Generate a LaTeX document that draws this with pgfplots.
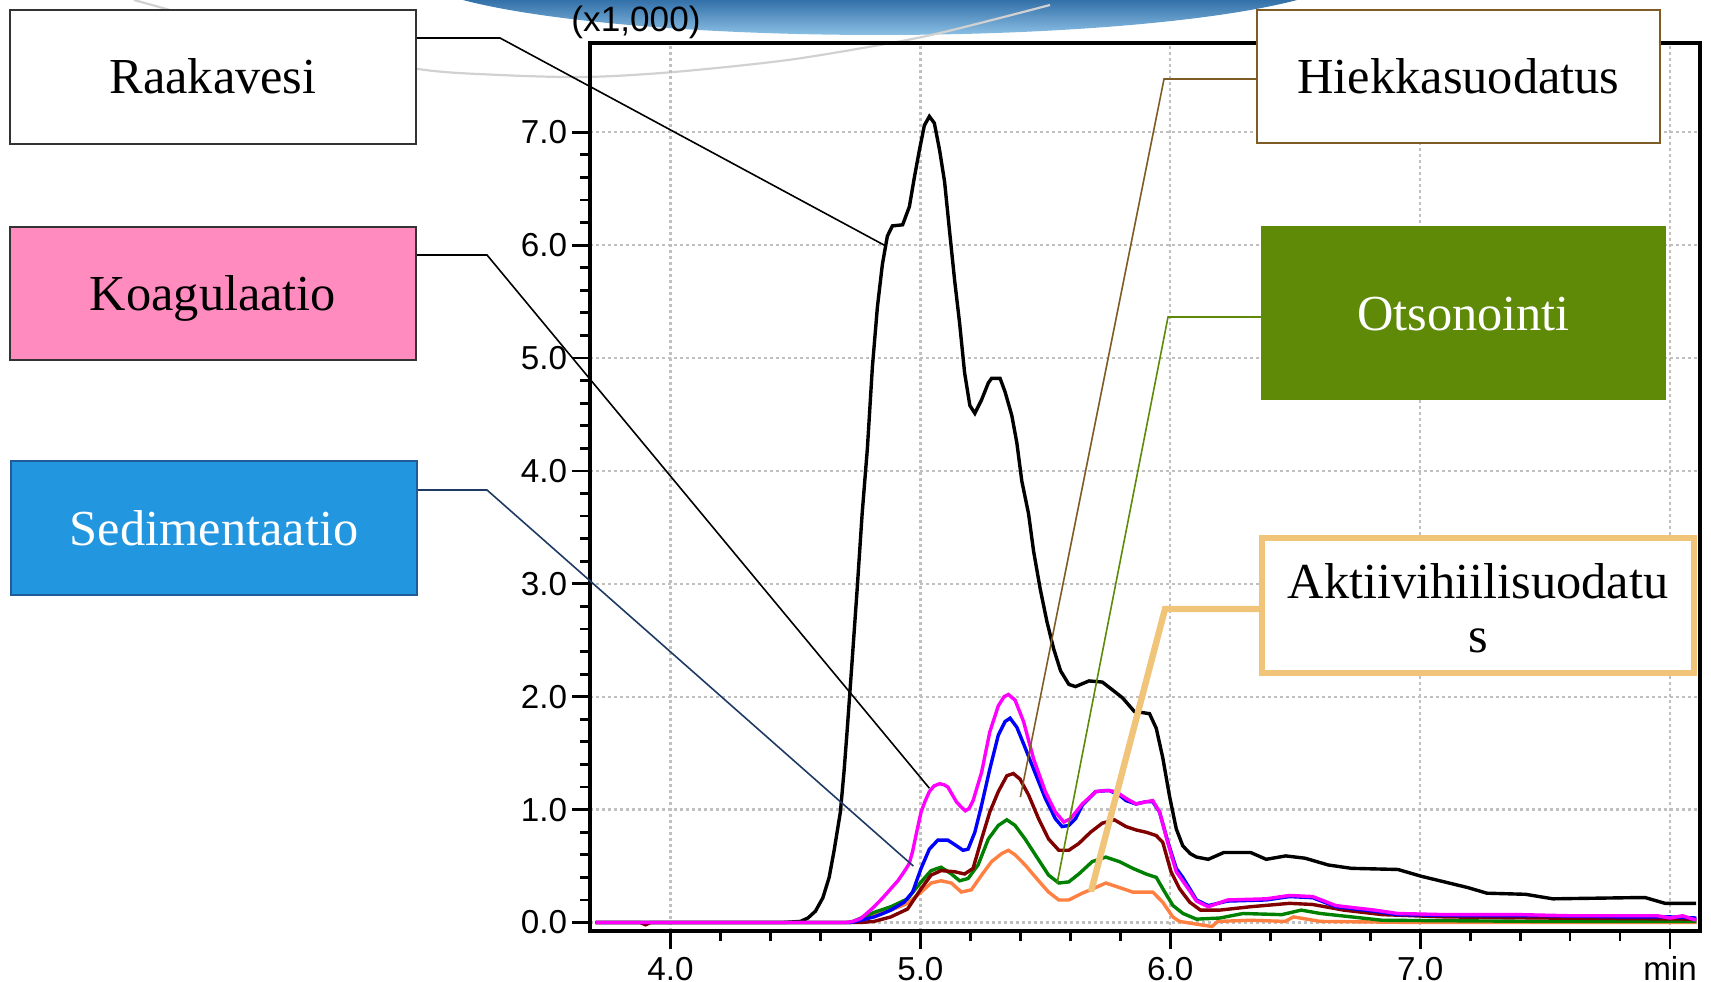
\documentclass[border=0pt]{standalone}
\usepackage{pgfplots}
\pgfplotsset{compat=1.18}
\usepackage{fontspec}
\setmainfont{Liberation Serif}
\newfontfamily\arialfont{Liberation Sans}
\definecolor{pinkbox}{HTML}{FF8BBF}
\definecolor{bluebox}{HTML}{2396E0}
\definecolor{blueboxdraw}{HTML}{1F5C99}
\definecolor{greenbox}{HTML}{5E8A08}
\definecolor{tanc}{HTML}{F0C57A}
\definecolor{brownc}{HTML}{7F5B25}
\definecolor{navyc}{HTML}{1F3A64}
\definecolor{orangec}{HTML}{FF8040}
\definecolor{darkredc}{HTML}{800000}
\definecolor{greenc}{HTML}{008000}
\definecolor{magentac}{HTML}{FF00FF}
\definecolor{bluec}{HTML}{0000FF}
\definecolor{gridc}{HTML}{C0C0C0}
\definecolor{swooshtop}{HTML}{2E6CA6}
\definecolor{swooshbot}{HTML}{8EC2E6}
\begin{document}
\begin{tikzpicture}
\begin{scope}[x=0.25pt,y=-0.25pt]
  \begin{scope}
    \clip (880,-30) ellipse [x radius=470, y radius=65];
    \shade[top color=swooshtop, bottom color=swooshbot] (380,-2) rectangle (1400,36);
  \end{scope}
  \draw[black!18, line width=0.55pt] plot[smooth] coordinates {(134,0) (300,45) (418,69) (500,75) (586,77) (674,72) (788,60) (891,43) (940,33) (1000,18) (1050,5)};
  \node[font=\arialfont\fontsize{8.8}{10}\selectfont] at (636,22) {(x1,000)};
\end{scope}
\begin{axis}[
  at={(147.5pt,-232.75pt)}, anchor=south west,
  scale only axis, width=277.5pt, height=222pt,
  xmin=3.678, xmax=8.12, ymin=-0.075, ymax=7.79,
  xtick={4,5,6,7,8}, xticklabels={4.0,5.0,6.0,7.0,min},
  ytick={0,1,2,3,4,5,6,7}, yticklabels={0.0,1.0,2.0,3.0,4.0,5.0,6.0,7.0},
  minor x tick num=4, minor y tick num=4,
  tick pos=left, tick align=outside,
  major tick length=4.5pt, minor tick length=2.4pt,
  every tick/.style={black, line width=0.7pt},
  grid=major,
  major grid style={gridc, line width=0.6pt, dash pattern=on 0.7pt off 0.8pt},
  axis line style={black, line width=0.9pt},
  /pgf/number format/assume math mode=true,
  ticklabel style={font=\arialfont\fontsize{8.3}{10}\selectfont},
  xticklabel style={anchor=base, yshift=-7.8pt},
  yticklabel style={anchor=east, xshift=2.3pt},
  clip=true,
]
\addplot[black, line width=0.85pt] coordinates {
(3.70,0) (4.45,0) (4.52,0.01) (4.55,0.04) (4.58,0.10) (4.61,0.22) (4.635,0.40)
(4.655,0.64) (4.68,0.98) (4.695,1.35) (4.707,1.70) (4.727,2.32) (4.747,2.95)
(4.767,3.62) (4.788,4.20) (4.808,4.92) (4.828,5.45) (4.848,5.83) (4.868,6.08)
(4.888,6.17) (4.929,6.18) (4.956,6.34) (4.976,6.60) (4.996,6.84) (5.016,7.06)
(5.036,7.14) (5.056,7.08) (5.077,6.84) (5.097,6.56) (5.117,6.12) (5.137,5.69)
(5.157,5.31) (5.177,4.87) (5.198,4.58) (5.218,4.51) (5.245,4.63) (5.272,4.78)
(5.285,4.82) (5.319,4.82) (5.339,4.70) (5.366,4.49) (5.386,4.25) (5.406,3.91)
(5.433,3.62) (5.453,3.29) (5.480,2.95) (5.507,2.66) (5.534,2.42) (5.561,2.23)
(5.594,2.11) (5.621,2.09) (5.675,2.14) (5.728,2.13) (5.769,2.06) (5.809,1.99)
(5.856,1.87) (5.917,1.85) (5.944,1.72) (5.970,1.46) (5.997,1.12) (6.024,0.83)
(6.050,0.68) (6.080,0.61) (6.105,0.58) (6.152,0.56) (6.214,0.62) (6.322,0.62)
(6.384,0.56) (6.462,0.59) (6.539,0.57) (6.632,0.51) (6.725,0.48) (6.911,0.47)
(7.004,0.41) (7.097,0.36) (7.190,0.31) (7.267,0.26) (7.422,0.25) (7.531,0.21)
(7.840,0.22) (7.902,0.22) (7.980,0.17) (8.104,0.17)};
\addplot[orangec, line width=0.85pt] coordinates {
(3.70,0) (4.72,0) (4.815,0.065) (4.882,0.11) (4.949,0.17) (5.003,0.27) (5.043,0.35)
(5.083,0.37) (5.124,0.35) (5.164,0.27) (5.204,0.29) (5.245,0.42) (5.285,0.54)
(5.325,0.61) (5.352,0.64) (5.379,0.60) (5.419,0.51) (5.473,0.37) (5.513,0.27)
(5.554,0.20) (5.594,0.20) (5.648,0.26) (5.702,0.31) (5.742,0.35) (5.796,0.31)
(5.850,0.27) (5.930,0.27) (5.970,0.18) (6.010,0.05) (6.037,0.01) (6.121,-0.02)
(6.167,-0.035) (6.19,0.01) (6.322,0.02) (6.46,0.01) (6.493,0.05) (6.60,0.01)
(7.0,0.0) (8.105,0.0)};
\addplot[greenc, line width=0.85pt] coordinates {
(3.70,0) (4.72,0) (4.815,0.09) (4.882,0.14) (4.949,0.21) (5.003,0.36) (5.043,0.46)
(5.083,0.49) (5.124,0.43) (5.157,0.37) (5.191,0.39) (5.231,0.51) (5.272,0.74)
(5.312,0.86) (5.346,0.91) (5.379,0.86) (5.419,0.74) (5.460,0.60) (5.513,0.42)
(5.554,0.35) (5.594,0.36) (5.634,0.43) (5.688,0.54) (5.742,0.58) (5.796,0.54)
(5.850,0.48) (5.903,0.43) (5.944,0.40) (5.978,0.27) (6.011,0.15) (6.051,0.08)
(6.105,0.03) (6.198,0.04) (6.291,0.08) (6.446,0.07) (6.524,0.11) (6.601,0.08)
(6.849,0.02) (7.5,0.01) (8.105,0.01)};
\addplot[darkredc, line width=0.85pt] coordinates {
(3.70,0) (3.88,0) (3.90,-0.02) (3.92,0) (4.76,0) (4.815,0.01) (4.882,0.05)
(4.949,0.12) (5.003,0.30) (5.043,0.42) (5.083,0.46) (5.137,0.45) (5.177,0.43)
(5.211,0.48) (5.245,0.74) (5.278,0.98) (5.312,1.16) (5.346,1.30) (5.372,1.32)
(5.399,1.27) (5.433,1.13) (5.473,0.92) (5.513,0.74) (5.554,0.64) (5.594,0.64)
(5.634,0.70) (5.681,0.80) (5.728,0.88) (5.776,0.91) (5.823,0.85) (5.863,0.82)
(5.903,0.80) (5.944,0.77) (5.970,0.71) (6.003,0.45) (6.037,0.30) (6.078,0.18)
(6.121,0.11) (6.198,0.11) (6.322,0.14) (6.477,0.17) (6.570,0.16) (6.694,0.11)
(6.849,0.07) (7.1,0.05) (7.5,0.04) (8.105,0.03)};
\addplot[bluec, line width=0.85pt] coordinates {
(3.70,0) (4.72,0) (4.761,0.02) (4.815,0.05) (4.85,0.08) (4.882,0.11) (4.935,0.18)
(4.969,0.27) (5.003,0.48) (5.036,0.65) (5.070,0.73) (5.110,0.73) (5.144,0.68)
(5.171,0.64) (5.191,0.65) (5.218,0.80) (5.245,1.04) (5.278,1.36) (5.312,1.66)
(5.339,1.78) (5.359,1.81) (5.386,1.73) (5.419,1.55) (5.453,1.36) (5.500,1.10)
(5.540,0.92) (5.567,0.85) (5.594,0.86) (5.621,0.92) (5.648,1.04) (5.702,1.16)
(5.755,1.17) (5.796,1.13) (5.823,1.08) (5.863,1.05) (5.903,1.07) (5.930,1.07)
(5.957,0.98) (5.991,0.71) (6.024,0.48) (6.05,0.40) (6.078,0.30) (6.105,0.20)
(6.152,0.15) (6.229,0.19) (6.384,0.20) (6.477,0.23) (6.570,0.22) (6.663,0.14)
(6.818,0.10) (6.911,0.07) (7.2,0.06) (7.5,0.06) (7.8,0.05) (8.0,0.05) (8.105,0.04)};
\addplot[magentac, line width=0.85pt] coordinates {
(3.70,0) (4.70,0) (4.73,0.01) (4.761,0.035) (4.79,0.09) (4.815,0.14) (4.85,0.22)
(4.882,0.30) (4.91,0.37) (4.935,0.45) (4.955,0.52) (4.969,0.63) (4.985,0.80)
(5.003,0.98) (5.02,1.08) (5.036,1.16) (5.055,1.21) (5.077,1.23) (5.095,1.22)
(5.110,1.20) (5.144,1.07) (5.165,1.02) (5.180,0.99) (5.195,1.01) (5.211,1.08)
(5.245,1.33) (5.278,1.69) (5.312,1.92) (5.335,2.00) (5.352,2.02) (5.379,1.97)
(5.413,1.78) (5.453,1.45) (5.500,1.16) (5.540,0.98) (5.574,0.89) (5.601,0.92)
(5.648,1.05) (5.702,1.16) (5.742,1.17) (5.782,1.16) (5.823,1.10) (5.863,1.05)
(5.903,1.07) (5.930,1.08) (5.957,0.98) (5.991,0.70) (6.024,0.45) (6.043,0.39)
(6.078,0.28) (6.105,0.19) (6.152,0.14) (6.229,0.20) (6.384,0.21) (6.477,0.24)
(6.570,0.23) (6.663,0.15) (6.818,0.11) (6.911,0.08) (7.1,0.07) (7.4,0.07)
(7.6,0.06) (7.8,0.06) (7.95,0.06) (8.0,0.04) (8.05,0.06) (8.105,0.02)};
\coordinate (rk) at (axis cs:4.855,6.0);
\coordinate (ko) at (axis cs:5.036,1.19);
\coordinate (se) at (axis cs:4.972,0.50);
\coordinate (hi) at (axis cs:5.40,1.11);
\coordinate (ot) at (axis cs:5.547,0.345);
\coordinate (ak) at (axis cs:5.683,0.275);
\end{axis}
\begin{scope}[x=0.25pt,y=-0.25pt]
  % leaders
  \draw[black, line width=0.4pt] (416,38) -- (500,38) -- (rk);
  \draw[black, line width=0.4pt] (416,255) -- (487,255) -- (ko);
  \draw[navyc, line width=0.4pt] (417,490) -- (487,490) -- (se);
  \draw[brownc, line width=0.4pt] (1257,79) -- (1164,79) -- (hi);
  \draw[greenbox, line width=0.4pt] (1261,317) -- (1168,317) -- (ot);
  \draw[tanc, line width=1.6pt] (1262,609) -- (1165,609) -- (ak);
  % boxes
  \draw[black!80, fill=white, line width=0.35pt] (10,10) rectangle (416,144);
  \draw[black!80, fill=pinkbox, line width=0.35pt] (10,227) rectangle (416,360);
  \draw[blueboxdraw, fill=bluebox, line width=0.35pt] (11,461) rectangle (417,595);
  \draw[brownc, fill=white, line width=0.4pt] (1257,10) rectangle (1660,143);
  \fill[greenbox] (1261,226) rectangle (1666,400);
  \draw[tanc, fill=white, line width=1.5pt] (1262,538) rectangle (1694,673);
  \begin{scope}[every node/.style={font=\fontsize{12.6}{13.4}\selectfont, anchor=base, inner sep=0pt}]
    \node at (213,94) {Raakavesi};
    \node at (213,311) {Koagulaatio};
    \node[text=white] at (214,546) {Sedimentaatio};
    \node at (1458.5,94) {Hiekkasuodatus};
    \node[text=white] at (1463.5,331) {Otsonointi};
    \node at (1478,599) {Aktiivihiilisuodatu};
    \node at (1478,652.5) {s};
  \end{scope}
\end{scope}
\pgfresetboundingbox
\path[use as bounding box] (0,0) rectangle (427.75pt,-245.5pt);
\end{tikzpicture}
\end{document}
